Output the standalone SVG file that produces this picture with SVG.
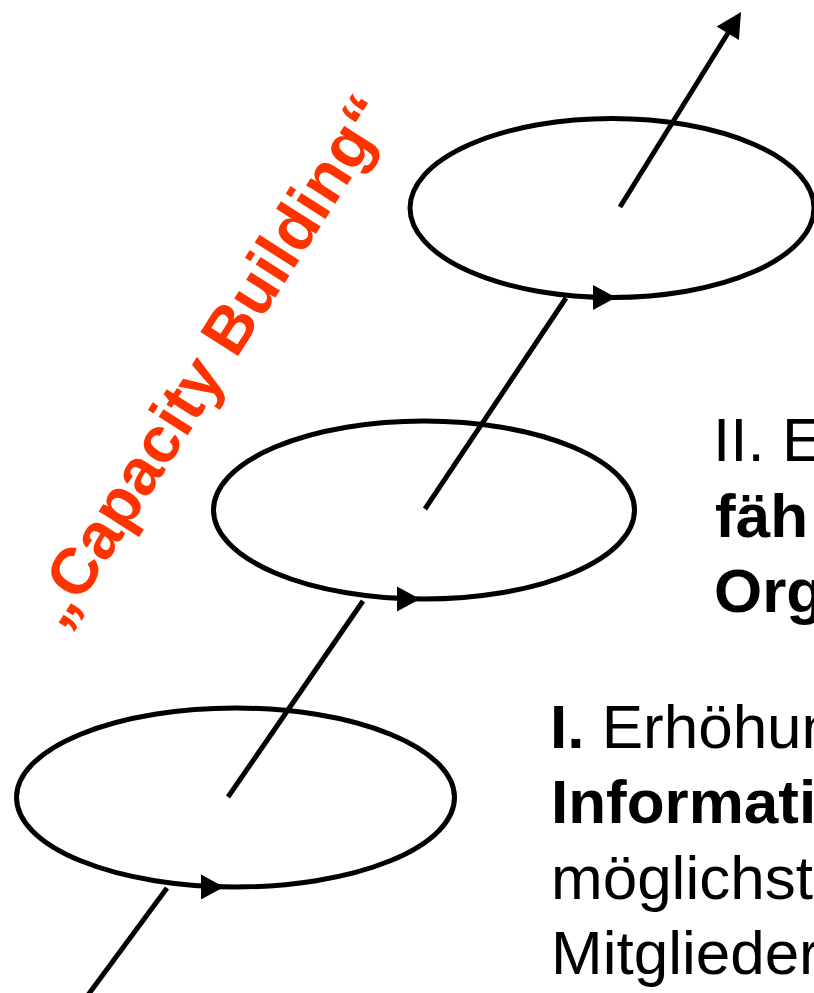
<svg xmlns="http://www.w3.org/2000/svg" width="814" height="993" viewBox="0 0 814 993">
  <style>
    .ring { fill: none; stroke: #000; stroke-width: 5; }
    .link { fill: none; stroke: #000; stroke-width: 5; stroke-linecap: butt; }
    .head { fill: #000; stroke: none; }
    .body { font-family: "Liberation Sans", Arial, sans-serif; font-size: 62px; fill: #000; }
    .b { font-weight: bold; }
    .motto { font-family: "Liberation Sans", Arial, sans-serif; font-size: 65px; font-weight: bold; fill: #FF3300; }
  </style>
  <defs>
    <!-- direction marker sitting on the lower rim of each loop, tip at origin -->
    <path id="rimHead" d="M -23 -12.5 L 0 0 L -23 12.5 Z"/>
  </defs>

  <rect width="814" height="993" fill="#fff"/>

  <!-- connectors: the rising spiral path between the loops -->
  <g id="connectors">
    <line class="link" x1="88" y1="995" x2="167" y2="888"/>
    <line class="link" x1="228" y1="797" x2="363" y2="601"/>
    <line class="link" x1="425" y1="509" x2="566" y2="298"/>
    <line class="link" x1="620" y1="207" x2="728" y2="33"/>
    <polygon class="head" points="741,12 716.7,26.4 738.9,40.1"/>
  </g>

  <!-- loop I -->
  <g id="loop-1">
    <ellipse class="ring" cx="235.5" cy="797.5" rx="219" ry="89.5"/>
    <use href="#rimHead" class="head" x="224" y="887"/>
  </g>

  <!-- loop II -->
  <g id="loop-2">
    <ellipse class="ring" cx="424" cy="510" rx="210.5" ry="89"/>
    <use href="#rimHead" class="head" x="420" y="599"/>
  </g>

  <!-- loop III -->
  <g id="loop-3">
    <ellipse class="ring" cx="612" cy="208" rx="202" ry="89.5"/>
    <use href="#rimHead" class="head" x="616" y="297.5"/>
  </g>

  <!-- slanted title -->
  <g id="motto">
    <text class="motto" x="228" y="372" text-anchor="middle" transform="rotate(-57.5 228 372)">„Capacity Building“</text>
  </g>

  <!-- stage II label -->
  <g id="label-2">
    <text class="body" x="713" y="461">II. E</text>
    <text class="body b" x="715" y="537">fäh</text>
    <text class="body b" x="714" y="612">Org</text>
  </g>

  <!-- stage I label -->
  <g id="label-1">
    <text class="body" x="550" y="748"><tspan class="b">I.</tspan> Erhöhun</text>
    <text class="body b" x="551" y="823">Informati</text>
    <text class="body" x="551" y="899">möglichst</text>
    <text class="body" x="551" y="974">Mitglieder</text>
  </g>
</svg>
